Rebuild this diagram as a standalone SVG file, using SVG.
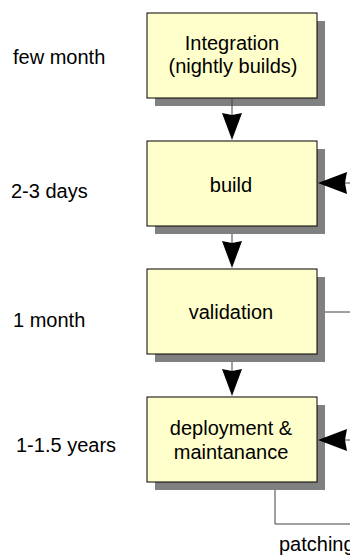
<svg xmlns="http://www.w3.org/2000/svg" width="350" height="557" viewBox="0 0 350 557">
<style>
.shadow{fill:#808080}
.box{fill:#FFFFCC;stroke:#000;stroke-width:1}
.t{font-family:"Liberation Sans",Arial,sans-serif;font-size:20px;fill:#000}
.c{text-anchor:middle}
.line{stroke:#404040;stroke-width:1;fill:none}
.head{fill:#000}
</style>
<rect width="350" height="557" fill="#fff"/>
<g id="labels">
<text class="t" x="13" y="64">few month</text>
<text class="t" x="11" y="198">2-3 days</text>
<text class="t" x="13" y="327">1 month</text>
<text class="t" x="16" y="452">1-1.5 years</text>
</g>
<g id="integration">
<rect class="shadow" x="155" y="21" width="170" height="85"/>
<rect class="box" x="147" y="13" width="170" height="85"/>
<text class="t c" x="232" y="50">Integration</text>
<text class="t c" x="233" y="73">(nightly builds)</text>
</g>
<g id="build">
<rect class="shadow" x="155" y="149" width="170" height="85"/>
<rect class="box" x="147" y="141" width="170" height="85"/>
<text class="t c" x="231" y="192">build</text>
</g>
<g id="validation">
<rect class="shadow" x="155" y="277" width="170" height="85"/>
<rect class="box" x="147" y="269" width="170" height="85"/>
<text class="t c" x="231" y="319">validation</text>
</g>
<g id="deployment">
<rect class="shadow" x="155" y="405" width="170" height="85"/>
<rect class="box" x="147" y="397" width="170" height="85"/>
<text class="t c" x="231" y="435">deployment &amp;</text>
<text class="t c" x="231" y="459">maintanance</text>
</g>
<g id="connectors">
<line class="line" x1="232" y1="98" x2="232" y2="120"/>
<path class="head" d="M222,113 L232,115 L242,113 L232,140 Z"/>
<line class="line" x1="232" y1="234" x2="232" y2="248"/>
<path class="head" d="M222,241 L232,243 L242,241 L232,268 Z"/>
<line class="line" x1="232" y1="362" x2="232" y2="376"/>
<path class="head" d="M222,369 L232,371 L242,369 L232,396 Z"/>
<line class="line" x1="340" y1="183" x2="350" y2="183"/>
<path class="head" d="M347,172 L345,183 L347,194 L318,183 Z"/>
<line class="line" x1="325" y1="312" x2="350" y2="312"/>
<line class="line" x1="340" y1="440" x2="350" y2="440"/>
<path class="head" d="M347,429 L345,440 L347,451 L318,440 Z"/>
<polyline class="line" points="275,490 275,524 350,524"/>
<text class="t" x="279" y="551">patching</text>
</g>
</svg>
